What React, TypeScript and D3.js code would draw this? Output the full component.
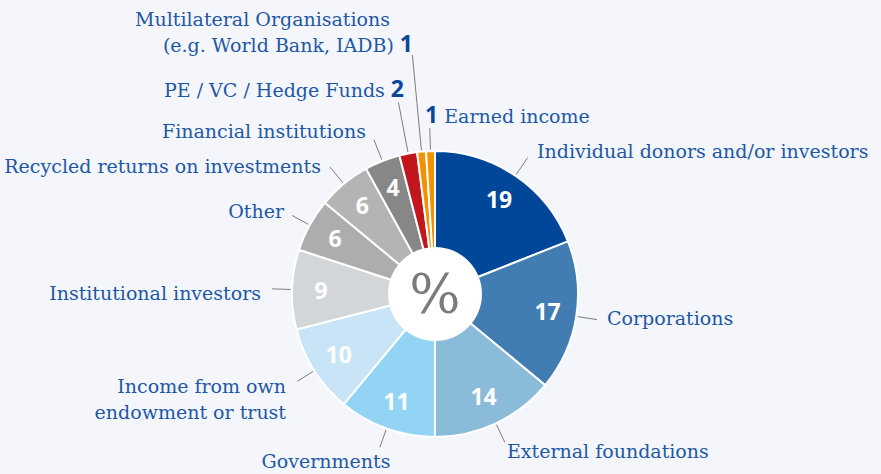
import React from "react";
import * as d3 from "d3";

const categories = [
  "Individual donors and/or investors",
  "Corporations",
  "External foundations",
  "Governments",
  "Income from own endowment or trust",
  "Institutional investors",
  "Other",
  "Recycled returns on investments",
  "Financial institutions",
  "PE / VC / Hedge Funds",
  "Multilateral Organisations (e.g. World Bank, IADB)",
  "Earned income",
];
const values = [19, 17, 14, 11, 10, 9, 6, 6, 4, 2, 1, 1];
const colors = [
  "#00479a", "#417cb2", "#8abbd8", "#93d4f5", "#c9e3f7", "#d3d6d9",
  "#adadad", "#b4b4b4", "#878787", "#c1161c", "#f39200", "#f39200",
];

type Lbl = {
  lines: string[];
  lineX?: number[];
  anchor: "start" | "middle" | "end";
  x: number;
  y: number;
  num: "inside" | "after" | "before";
  lineEnd: number;
};
const labelLayout: Lbl[] = [
  { lines: ["Individual donors and/or investors"], anchor: "start", x: 537, y: 158, num: "inside", lineEnd: 165 },
  { lines: ["Corporations"], anchor: "start", x: 607, y: 325, num: "inside", lineEnd: 164 },
  { lines: ["External foundations"], anchor: "start", x: 507, y: 458, num: "inside", lineEnd: 164 },
  { lines: ["Governments"], anchor: "middle", x: 326, y: 468, num: "inside", lineEnd: 163 },
  { lines: ["Income from own", "endowment or trust"], anchor: "end", x: 286, y: 393, num: "inside", lineEnd: 163 },
  { lines: ["Institutional investors"], anchor: "end", x: 261, y: 300, num: "inside", lineEnd: 163 },
  { lines: ["Other"], anchor: "end", x: 284, y: 218, num: "inside", lineEnd: 163 },
  { lines: ["Recycled returns on investments"], anchor: "end", x: 321, y: 173, num: "inside", lineEnd: 165 },
  { lines: ["Financial institutions"], anchor: "end", x: 366, y: 138, num: "inside", lineEnd: 166 },
  { lines: ["PE / VC / Hedge Funds"], anchor: "end", x: 404, y: 97, num: "after", lineEnd: 195 },
  { lines: ["Multilateral Organisations", "(e.g. World Bank, IADB)"], lineX: [390, 413], anchor: "end", x: 413, y: 26, num: "after", lineEnd: 240 },
  { lines: ["Earned income"], anchor: "start", x: 425, y: 123, num: "before", lineEnd: 166 },
];

const W = 881;
const H = 474;
const cx = 435;
const cy = 294;
const R = 143;
const r0 = 47;
const labelR = 114;

const serif = '"DejaVu Serif", "Liberation Serif", "Times New Roman", serif';
const sans = '"Open Sans", sans-serif';
const textBlue = "#1d58a5";
const numBlue = "#0b4799";

export default function App() {
  const pie = d3.pie<number>().sort(null).value((d) => d);
  const arcs = pie(values);
  const arc = d3.arc<d3.PieArcDatum<number>>().innerRadius(0).outerRadius(R);

  const pt = (a: number, rad: number) => [cx + rad * Math.sin(a), cy - rad * Math.cos(a)];

  return (
    <svg width={W} height={H} style={{ position: "absolute", left: 0, top: 0, display: "block" }}>
      <rect width={W} height={H} fill="#f5f6fc" />
      <g transform={`translate(${cx},${cy})`}>
        <circle r={R + 1} fill="#ffffff" />
        {arcs.map((a, i) => (
          <path key={i} d={arc(a) || ""} fill={colors[i]} stroke="#ffffff" strokeWidth={2} strokeLinejoin="round" />
        ))}
        <circle r={r0} fill="#ffffff" />
        {arcs.map((a, i) => {
          if (labelLayout[i].num !== "inside") return null;
          const m = (a.startAngle + a.endAngle) / 2;
          return (
            <text
              key={i}
              x={labelR * Math.sin(m)}
              y={-labelR * Math.cos(m)}
              dy="0.36em"
              textAnchor="middle"
              fill="#ffffff"
              style={{ fontFamily: sans, fontWeight: 700, fontSize: 23 }}
            >
              {values[i]}
            </text>
          );
        })}
        <text x={0} y={19} textAnchor="middle" fill="#7b7b7b" style={{ fontFamily: serif, fontSize: 54 }}>
          %
        </text>
      </g>
      {arcs.map((a, i) => {
        const m = (a.startAngle + a.endAngle) / 2;
        const [x1, y1] = pt(m, R + 1.5);
        const [x2, y2] = pt(m, labelLayout[i].lineEnd);
        return <line key={i} x1={x1} y1={y1} x2={x2} y2={y2} stroke="#7d7d7d" strokeWidth={1} />;
      })}
      {labelLayout.map((l, i) =>
        l.lines.map((t, j) => {
          const last = j === l.lines.length - 1;
          return (
            <text
              key={i + "-" + j}
              x={l.lineX ? l.lineX[j] : l.x}
              y={l.y + j * 26}
              textAnchor={l.anchor}
              fill={textBlue}
              style={{ fontFamily: serif, fontSize: 19 }}
            >
              {l.num === "before" && last ? (
                <tspan style={{ fontFamily: sans, fontWeight: 700, fontSize: 23 }} fill={numBlue}>
                  {values[i]}
                </tspan>
              ) : null}
              {l.num === "before" && last ? " " + t : t}
              {l.num === "after" && last ? (
                <tspan style={{ fontFamily: sans, fontWeight: 700, fontSize: 23 }} fill={numBlue}>
                  {" " + values[i]}
                </tspan>
              ) : null}
            </text>
          );
        })
      )}
    </svg>
  );
}
